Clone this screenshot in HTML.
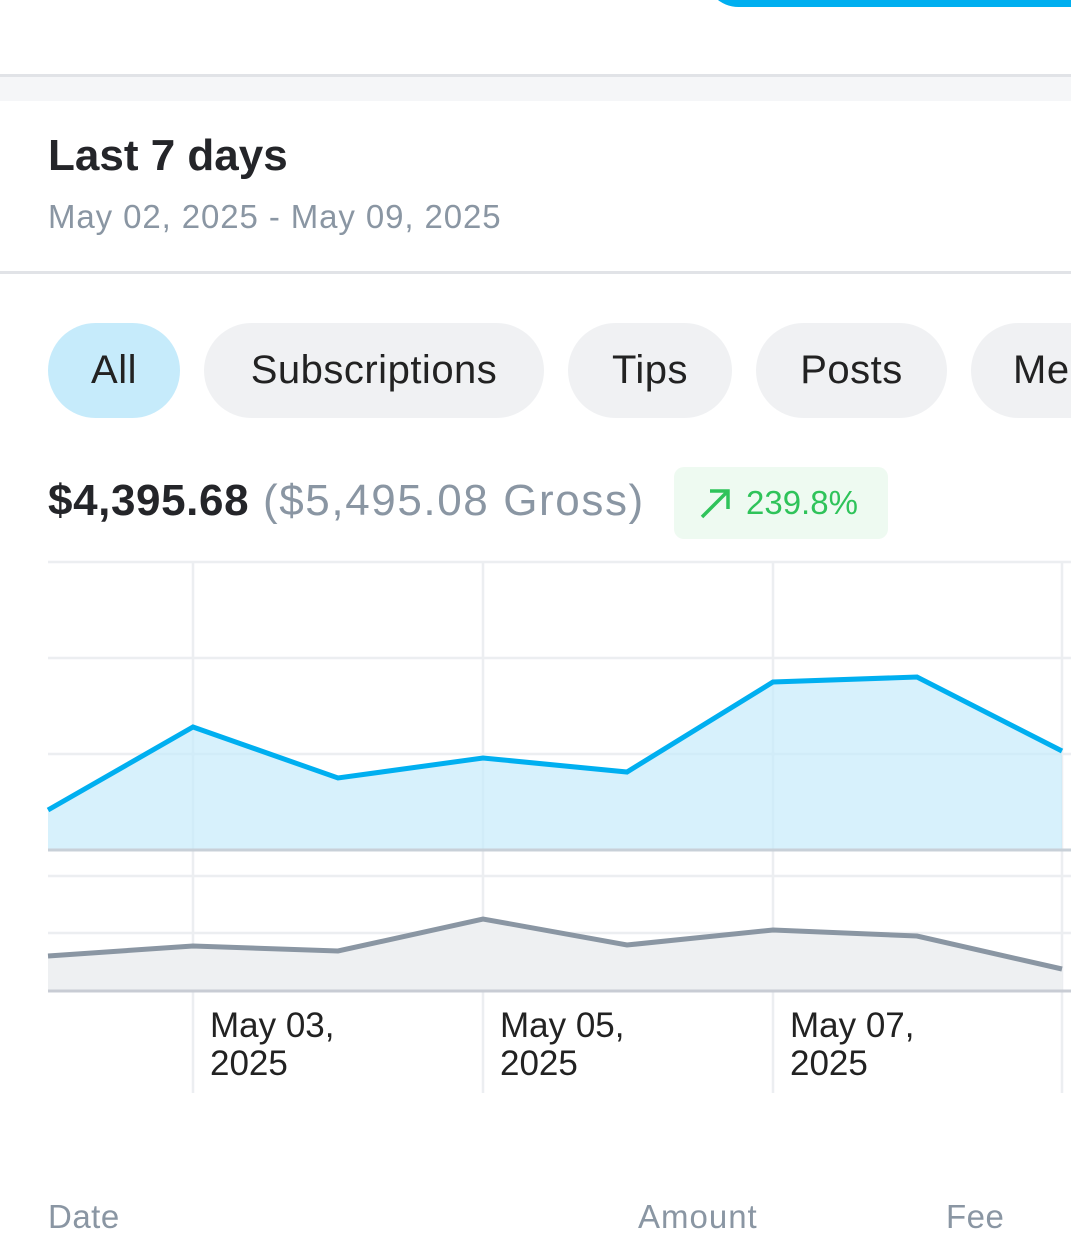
<!DOCTYPE html>
<html><head><style>
body{margin:0;width:1071px;height:1244px;overflow:hidden;background:#fff;font-family:"Liberation Sans",sans-serif;position:relative}
.a{position:absolute;white-space:nowrap}
.pill{position:absolute;top:323px;height:95px;border-radius:48px;background:#f0f1f3;color:#222;font-size:40px;line-height:95px;text-align:center;letter-spacing:0.5px}
</style></head><body>
<div class="a" style="left:705px;top:-60px;width:420px;height:67px;border-radius:34px;background:#00aff0"></div>
<div class="a" style="left:0;top:74px;width:1071px;height:3px;background:#e1e3e7"></div>
<div class="a" style="left:0;top:77px;width:1071px;height:24px;background:#f5f6f8"></div>
<div class="a" style="left:48px;top:131px;font-size:44px;font-weight:bold;color:#242529">Last 7 days</div>
<div class="a" style="left:48px;top:198px;font-size:33px;color:#8a96a3;letter-spacing:0.9px">May 02, 2025 - May 09, 2025</div>
<div class="a" style="left:0;top:271px;width:1071px;height:3px;background:#e1e3e7"></div>
<div class="pill" style="left:48px;width:132px;background:#c6ebfb">All</div>
<div class="pill" style="left:204px;width:340px">Subscriptions</div>
<div class="pill" style="left:568px;width:164px">Tips</div>
<div class="pill" style="left:756px;width:191px">Posts</div>
<div class="pill" style="left:971px;width:160px;text-align:left;padding-left:42px;box-sizing:border-box">Me</div>
<div class="a" style="left:48px;top:476px;font-size:44px;color:#242529;letter-spacing:1.6px"><b style="letter-spacing:0.6px">$4,395.68</b> <span style="color:#8a96a3">($5,495.08 Gross)</span></div>
<div class="a" style="left:674px;top:467px;width:214px;height:72px;border-radius:10px;background:#eefaf1;color:#2fc35a;font-size:33px;line-height:72px">
<svg style="position:absolute;left:24px;top:18px" width="36" height="36" viewBox="0 0 36 36"><path d="M4 32 L30 6 M12 6 H30 V24" stroke="#2fc35a" stroke-width="3.5" fill="none"/></svg>
<span style="position:absolute;left:72px">239.8%</span></div>
<svg class="a" style="left:0;top:0" width="1071" height="1244">
<g stroke="#eceef1" stroke-width="2.5">
<line x1="48" y1="562" x2="1071" y2="562"/><line x1="48" y1="658" x2="1071" y2="658"/><line x1="48" y1="754" x2="1071" y2="754"/>
<line x1="48" y1="876" x2="1071" y2="876"/><line x1="48" y1="933" x2="1071" y2="933"/>
<line x1="193" y1="562" x2="193" y2="1093"/><line x1="483" y1="562" x2="483" y2="1093"/><line x1="773" y1="562" x2="773" y2="1093"/><line x1="1062" y1="562" x2="1062" y2="1093"/>
</g>
<polygon points="48,810 193,727 338,778 483,758 627,772 773,682 917,677 1062,751 1062,850 48,850" fill="#c6ebfb" opacity="0.7"/>
<polyline points="48,810 193,727 338,778 483,758 627,772 773,682 917,677 1062,751" fill="none" stroke="#00aff0" stroke-width="5"/>
<line x1="48" y1="850" x2="1071" y2="850" stroke="#c8d0d8" stroke-width="3"/>
<polygon points="48,956 193,946 338,951 483,919 627,945 773,930 917,936 1062,969 1062,991 48,991" fill="#eef0f2"/>
<polyline points="48,956 193,946 338,951 483,919 627,945 773,930 917,936 1062,969" fill="none" stroke="#8a96a3" stroke-width="5"/>
<line x1="48" y1="991" x2="1071" y2="991" stroke="#c8ccd4" stroke-width="3"/>
<g font-family="Liberation Sans" font-size="35" fill="#222">
<text x="210" y="1037">May 03,</text><text x="210" y="1075">2025</text>
<text x="500" y="1037">May 05,</text><text x="500" y="1075">2025</text>
<text x="790" y="1037">May 07,</text><text x="790" y="1075">2025</text>
</g>
</svg>
<div class="a" style="left:48px;top:1198px;font-size:33px;color:#8a96a3;letter-spacing:0.5px">Date</div>
<div class="a" style="left:638px;top:1198px;font-size:33px;color:#8a96a3;letter-spacing:1px">Amount</div>
<div class="a" style="left:946px;top:1198px;font-size:33px;color:#8a96a3;letter-spacing:0.5px">Fee</div>
</body></html>
